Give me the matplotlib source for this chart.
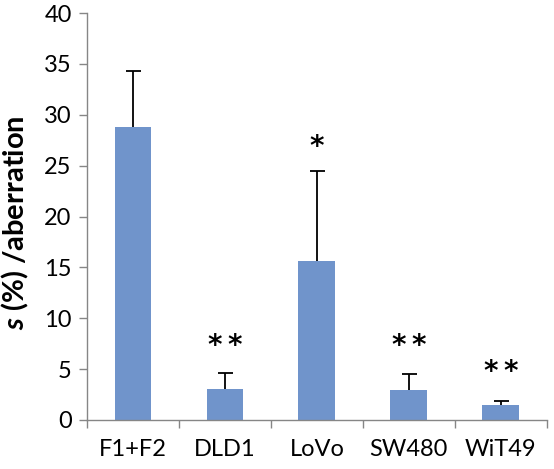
import numpy as np
import matplotlib
matplotlib.use("Agg")
import matplotlib.pyplot as plt

categories = ["F1+F2", "DLD1", "LoVo", "SW480", "WiT49"]
values = [28.8, 3.05, 15.6, 2.95, 1.45]
errors = [5.5, 1.55, 8.9, 1.55, 0.4]
stars = ["", "*\u2009*", "*", "*\u2009*", "*\u2009*"]
star_y = [0, 7.3, 26.8, 7.3, 4.7]

plt.rcParams["font.family"] = ["Lato", "DejaVu Sans"]
plt.rcParams["mathtext.fontset"] = "custom"
plt.rcParams["mathtext.bfit"] = "Lato:italic:bold"

fig = plt.figure(figsize=(5.54, 4.69), dpi=100)
ax = fig.add_axes([0.157, 0.1045, 0.83, 0.8675])

x = np.arange(len(categories))
ax.bar(x, values, width=0.4, color="#7094CB", zorder=2)
_, caps, _ = ax.errorbar(x, values, yerr=[np.zeros(len(errors)), errors], fmt="none",
                         ecolor="black", elinewidth=1.3, capsize=5.4, capthick=1.3, zorder=3)
# Excel style: only the upper cap
caps[0].set_visible(False)

for xi, s, sy in zip(x, stars, star_y):
    if s:
        ax.text(xi, sy, s, ha="center", va="center", fontsize=20,
                fontweight="bold", family="DejaVu Sans")

ax.set_xlim(-0.5, len(categories) - 0.5)
ax.set_ylim(0, 40)
ax.set_yticks(np.arange(0, 41, 5))
ax.set_xticks(x)
ax.set_xticklabels(categories)
ax.set_xticks(np.arange(-0.5, len(categories)), minor=True)
ax.tick_params(axis="x", which="major", length=0, pad=14, labelsize=17)
ax.tick_params(axis="x", which="minor", length=6, color="#868686", width=1)
ax.tick_params(axis="y", length=6, color="#868686", width=1, labelsize=17, pad=5)

for side in ["top", "right"]:
    ax.spines[side].set_visible(False)
for side in ["left", "bottom"]:
    ax.spines[side].set_color("#868686")
    ax.spines[side].set_linewidth(1)

ax.set_ylabel(r"$\boldsymbol{s}$ (%) /aberration", fontsize=21, fontweight="bold")
ax.yaxis.set_label_coords(-0.122, 0.485)

fig.savefig("out.png", dpi=100)
